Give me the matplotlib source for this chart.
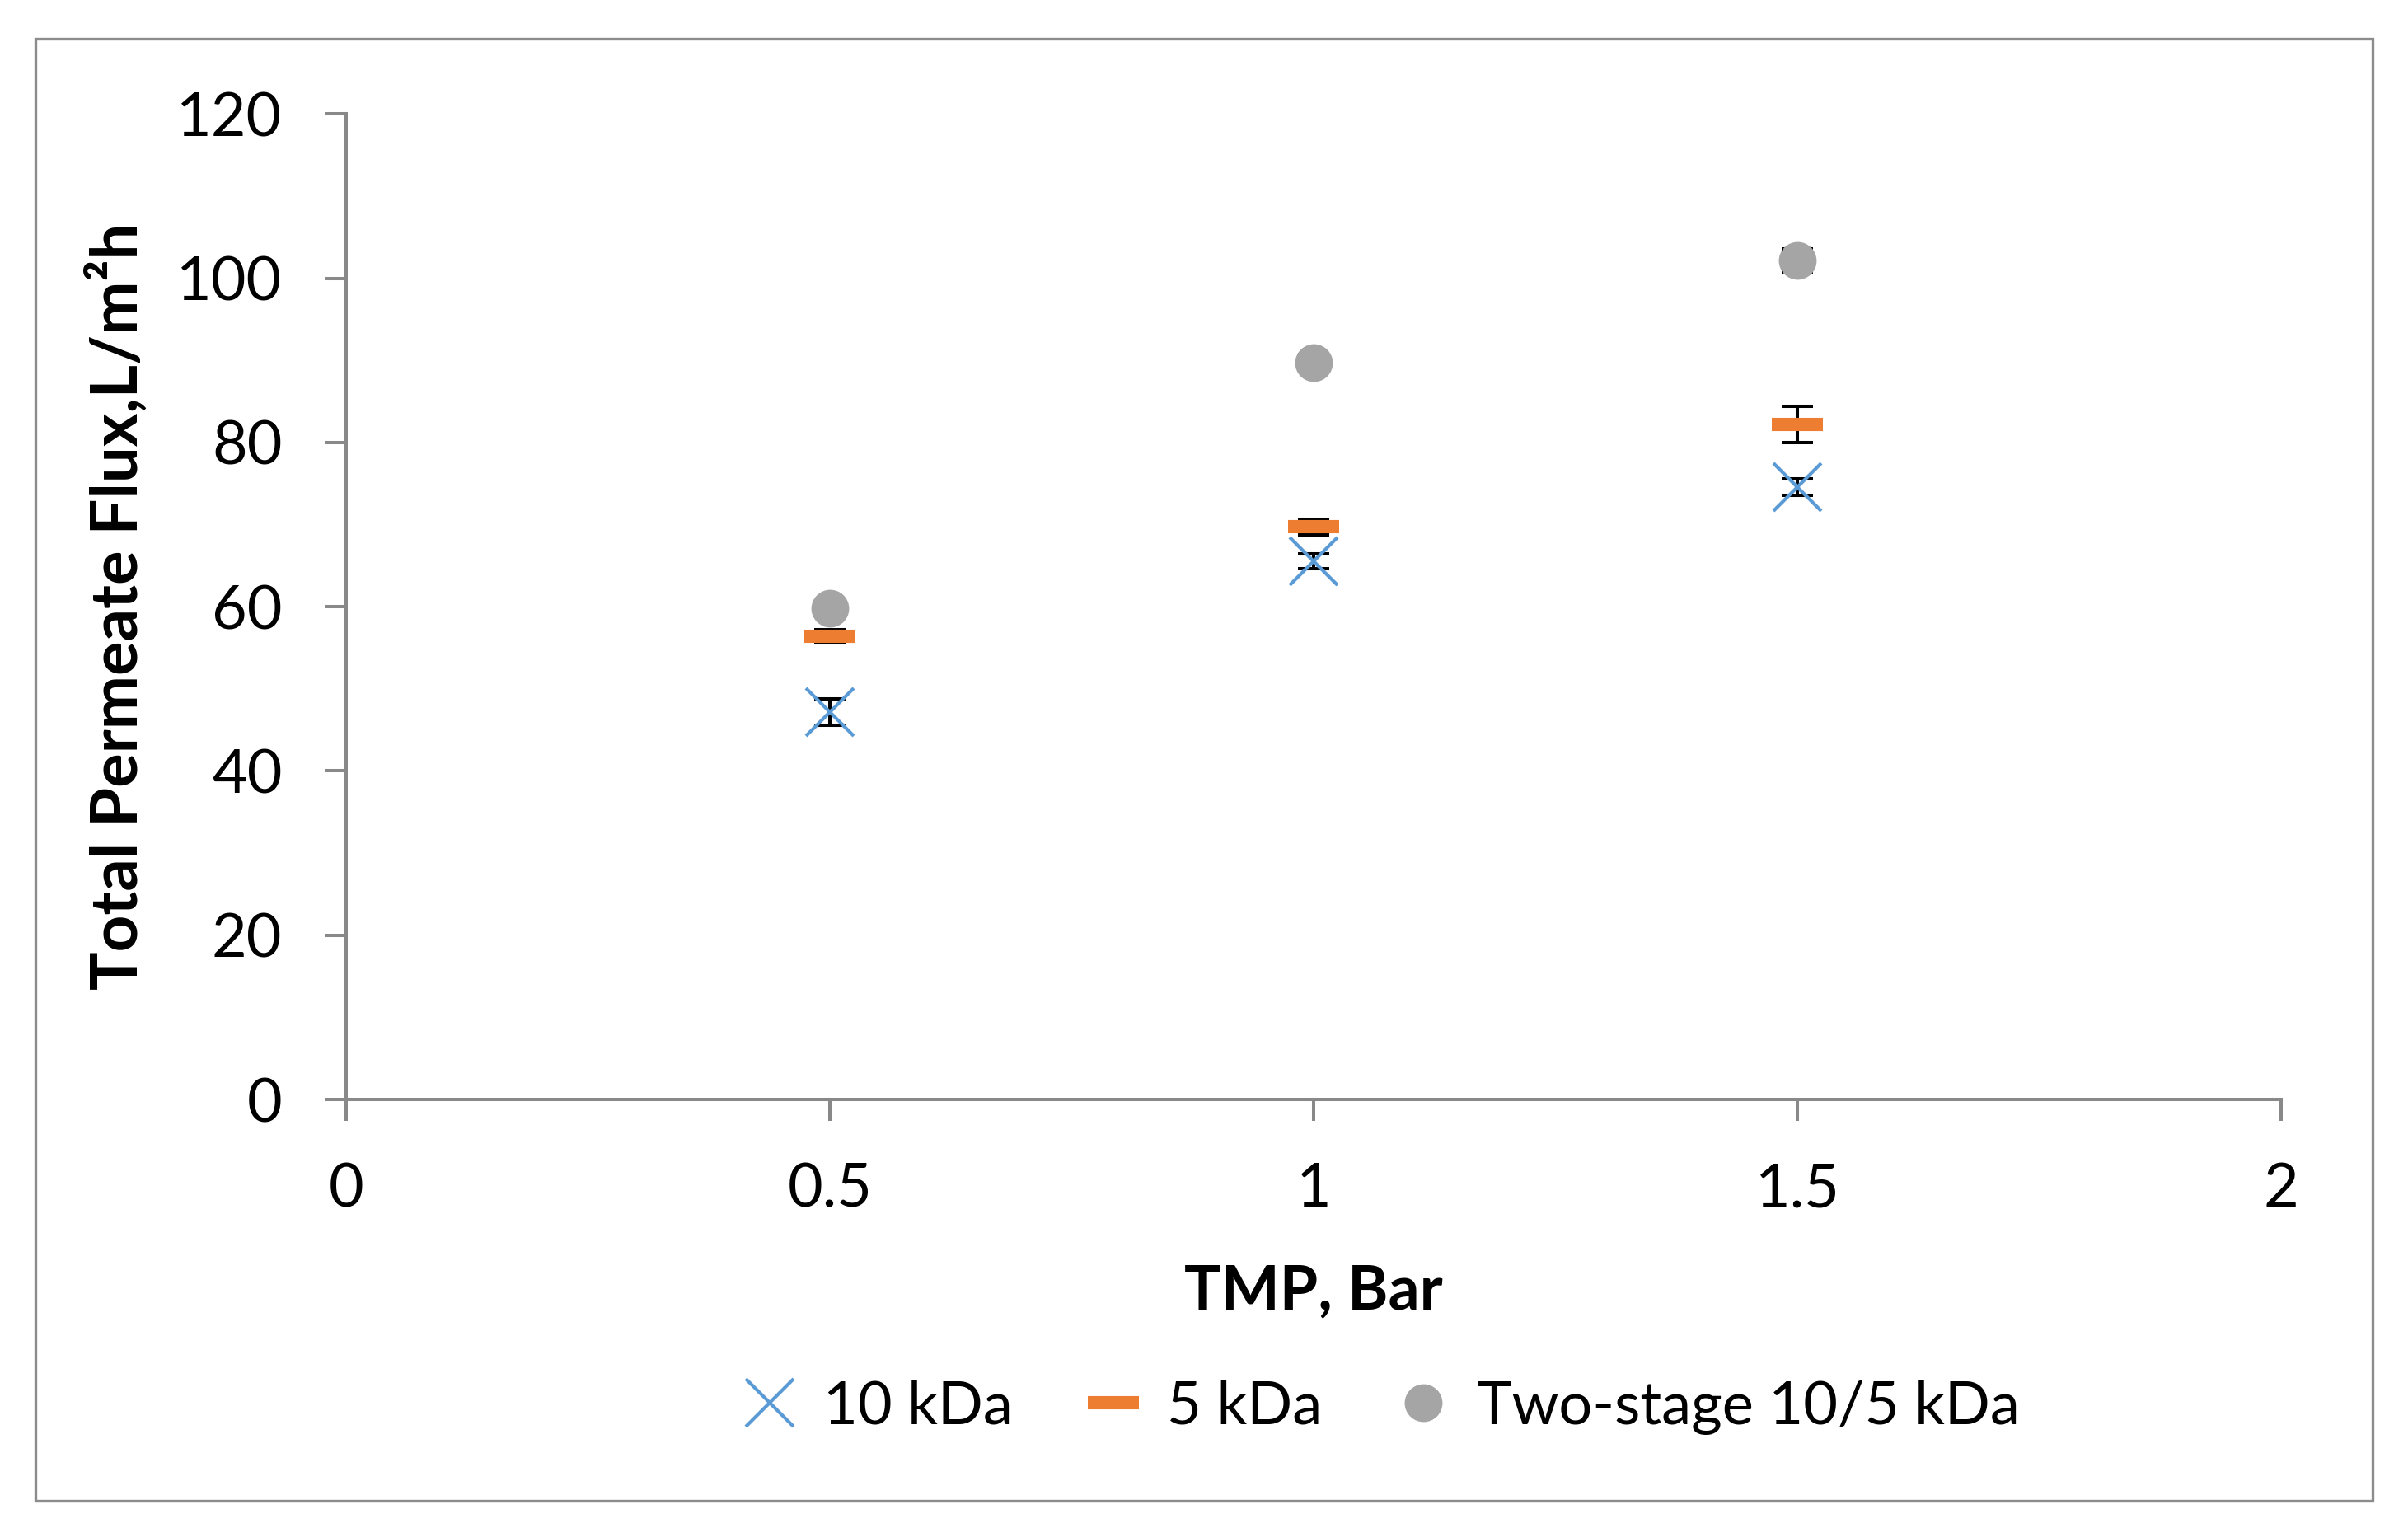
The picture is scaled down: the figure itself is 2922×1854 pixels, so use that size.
import matplotlib.pyplot as plt
from matplotlib.patches import Rectangle

# ==== data ====
tmp = [0.5, 1.0, 1.5]
flux_10kda = [47.2, 65.5, 74.6]
err_10kda = [1.6, 0.9, 1.0]
flux_5kda = [56.4, 69.7, 82.2]
err_5kda = [0.85, 1.0, 2.2]
flux_two_stage = [59.8, 89.7, 102.2]
err_two_stage = [0.6, 1.0, 1.4]

x_ticks = [0, 0.5, 1, 1.5, 2]
x_tick_labels = ["0", "0.5", "1", "1.5", "2"]
y_ticks = [0, 20, 40, 60, 80, 100, 120]

plt.rcParams['font.family'] = ['Lato', 'DejaVu Sans']

W, H, DPI = 2922, 1854, 200
fig = plt.figure(figsize=(W / DPI, H / DPI), dpi=DPI)
ax = fig.add_axes([420 / W, 1 - 1334 / H, (2768 - 420) / W, (1334 - 138.3) / H])

axis_grey = "#898989"
blue = "#5b9bd5"
orange = "#ed7d31"
grey = "#a5a5a5"

# error bars first, markers on top
for y, e in [(flux_10kda, err_10kda), (flux_5kda, err_5kda), (flux_two_stage, err_two_stage)]:
    ax.errorbar(tmp, y, yerr=e, fmt='none', ecolor='black', elinewidth=1.45,
                capsize=6.8, capthick=1.45, zorder=2)

ax.plot(tmp, flux_10kda, linestyle='none', marker='x', markersize=21,
        markeredgewidth=1.5, color=blue, label="10 kDa", zorder=3)
ax.plot(tmp, flux_5kda, linestyle='none', marker='_', markersize=22,
        markeredgewidth=5.8, color=orange, label="5 kDa", zorder=3)
ax.plot(tmp, flux_two_stage, linestyle='none', marker='o', markersize=16.5,
        markeredgewidth=0, color=grey, label="Two-stage 10/5 kDa", zorder=3)

ax.set_xlim(0, 2)
ax.set_ylim(0, 120)
ax.set_xticks(x_ticks)
ax.set_xticklabels(x_tick_labels)
ax.set_yticks(y_ticks)

for side in ["top", "right"]:
    ax.spines[side].set_visible(False)
for side in ["left", "bottom"]:
    ax.spines[side].set_color(axis_grey)
    ax.spines[side].set_linewidth(1.45)
ax.tick_params(axis='both', direction='out', length=9.4, width=1.45,
               color=axis_grey, labelsize=26.5)
ax.tick_params(axis='y', pad=18.5)
ax.tick_params(axis='x', pad=18)

ax.set_xlabel("TMP, Bar", fontsize=27, fontweight='bold', labelpad=20)
ax.set_ylabel("Total Permeate Flux,L/m²h", fontsize=28, fontweight='bold', labelpad=12)

fig.legend(loc='center', bbox_to_anchor=(0.573, 0.079), ncol=3, frameon=False,
           fontsize=26, handlelength=1.0, handletextpad=0.4, columnspacing=1.2)

# chart outer border
fig.patches.append(Rectangle((42.7 / W, 1 - 1820.7 / H), (2879 - 42.7) / W, (1820.7 - 47.3) / H,
                             transform=fig.transFigure, fill=False,
                             edgecolor="#8c8c8c", linewidth=1.2))

fig.savefig("out.png", dpi=DPI)
